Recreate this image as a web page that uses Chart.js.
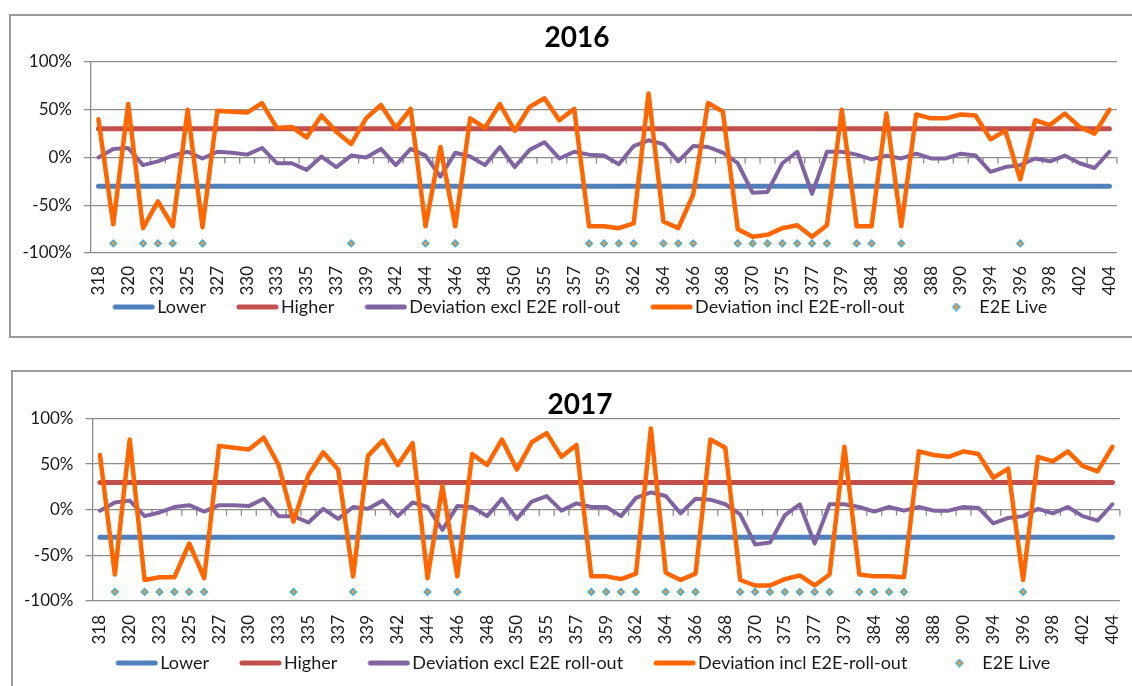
<!DOCTYPE html>
<html>
<head>
<meta charset="utf-8">
<script src="https://cdn.jsdelivr.net/npm/chart.js@4.4.0/dist/chart.umd.min.js"></script>
<style>
  body { margin: 0; background: #fff; width: 1132px; height: 686px; overflow: hidden; position: relative; }
  .frame { position: absolute; border: 2px solid #9a9a9a; background: #fff; }
  #frame2016 { left: 9px; top: 14px; width: 1140px; height: 320px; }
  #frame2017 { left: 11px; top: 370px; width: 1140px; height: 330px; }
  .frame canvas { position: absolute; left: 0; top: 0; }
</style>
</head>
<body>
<div class="frame" id="frame2016"><canvas id="chart2016" width="1132" height="320" style="width:1132px;height:320px"></canvas></div>
<div class="frame" id="frame2017"><canvas id="chart2017" width="1134" height="320" style="width:1134px;height:320px"></canvas></div>
<script>
// week numbers on the category axis (only every other one is labelled)
var weeks = [318, 319, 320, 322, 323, 324, 325, 326, 327, 329,
             330, 331, 333, 334, 335, 336, 337, 338, 339, 340,
             342, 343, 344, 345, 346, 347, 348, 349, 350, 352,
             355, 356, 357, 358, 359, 361, 362, 363, 364, 365,
             366, 367, 368, 369, 370, 372, 375, 376, 377, 378,
             379, 381, 384, 385, 386, 387, 388, 389, 390, 392,
             394, 395, 396, 397, 398, 400, 402, 403, 404];

var lowerLimit = -30;   // %
var higherLimit = 30;   // %
var e2eMarkerLevel = -90; // where the "E2E Live" diamonds sit

// 2016
var exclRollout2016 = [0, 9, 10, -8, -4, 2, 6, -1, 6, 5,
                       3, 10, -6, -6, -13, 1, -10, 2, 0, 9,
                       -8, 9, 2, -20, 5, 1, -8, 11, -10, 8,
                       16, -1, 6, 3, 2, -7, 12, 18, 14, -4,
                       12, 11, 5, -6, -37, -36, -6, 6, -38, 6,
                       6, 3, -2, 2, -1, 4, -1, -1, 4, 2,
                       -15, -10, -8, -1, -4, 2, -6, -11, 6];
var inclRollout2016 = [40, -70, 56, -74, -46, -72, 50, -73, 49, 48,
                       47, 57, 31, 32, 21, 44, 27, 14, 41, 55,
                       31, 51, -72, 11, -72, 41, 31, 56, 28, 53,
                       62, 39, 51, -72, -72, -74, -69, 67, -67, -74,
                       -39, 57, 48, -75, -83, -81, -74, -71, -83, -71,
                       50, -72, -72, 46, -72, 45, 41, 41, 45, 44,
                       19, 28, -23, 39, 34, 46, 32, 25, 50];
var e2eLive2016 = [319, 322, 323, 324, 326, 338, 344, 346, 358, 359, 361, 362, 364,
                   365, 366, 369, 370, 372, 375, 376, 377, 378, 381, 384, 386, 396];

// 2017
var exclRollout2017 = [-1, 8, 10, -7, -3, 3, 5, -2, 5, 5,
                       4, 12, -7, -7, -14, 1, -10, 3, 1, 10,
                       -7, 8, 3, -22, 4, 3, -7, 12, -10, 9,
                       15, -1, 7, 3, 3, -7, 13, 19, 15, -4,
                       12, 11, 6, -5, -38, -36, -6, 6, -37, 6,
                       6, 3, -2, 3, -1, 3, -1, -1, 3, 2,
                       -15, -9, -7, 1, -4, 3, -7, -12, 6];
var inclRollout2017 = [60, -71, 77, -77, -74, -74, -37, -75, 70, 68,
                       66, 79, 49, -13, 38, 63, 44, -73, 59, 76,
                       49, 73, -75, 26, -73, 61, 49, 77, 44, 74,
                       84, 58, 71, -73, -73, -76, -70, 89, -69, -77,
                       -70, 77, 68, -77, -83, -83, -76, -72, -83, -71,
                       69, -71, -73, -73, -74, 64, 60, 58, 64, 61,
                       35, 45, -77, 58, 53, 64, 48, 42, 69];
var e2eLive2017 = [319, 322, 323, 324, 325, 326, 334, 338, 344, 346, 358, 359, 361, 362, 364,
                   365, 366, 369, 370, 372, 375, 376, 377, 378, 381, 384, 385, 386, 396];

var colors = ['#4F81BD', '#C0504D', '#8064A2', '#FF6600'];

Chart.defaults.font.family = 'Lato';
Chart.defaults.color = '#1a1a1a';

// legend swatches: drawn at the right end of a wider transparent image so the
// swatch sits right before its text, like the Excel legend
var SW_W = 78;
function lineSwatch(color) {
    var c = document.createElement('canvas');
    c.width = SW_W; c.height = 6;
    var g = c.getContext('2d');
    g.strokeStyle = color;
    g.lineWidth = 5;
    g.lineCap = 'round';
    g.beginPath();
    g.moveTo(SW_W - 40, 3); g.lineTo(SW_W - 3, 3);
    g.stroke();
    return c;
}
function diamondSwatch() {
    var c = document.createElement('canvas');
    c.width = SW_W; c.height = 9;
    var g = c.getContext('2d');
    var cx = 57;
    g.fillStyle = '#F79646';
    g.strokeStyle = '#4BACC6';
    g.lineWidth = 1.6;
    g.beginPath();
    g.moveTo(cx, 1); g.lineTo(cx + 3.5, 4.5); g.lineTo(cx, 8); g.lineTo(cx - 3.5, 4.5); g.closePath();
    g.fill(); g.stroke();
    return c;
}
var swatches = [lineSwatch(colors[0]), lineSwatch(colors[1]), lineSwatch(colors[2]), lineSwatch(colors[3]), diamondSwatch()];

// small tick marks hanging below the 0% line, one per category
var zeroLineTicks = {
    id: 'zeroLineTicks',
    beforeDatasetsDraw: function(chart) {
        var x = chart.scales.x, y = chart.scales.y, ctx = chart.ctx;
        var y0 = y.getPixelForValue(0);
        var step = x.getPixelForValue(1) - x.getPixelForValue(0);
        ctx.save();
        ctx.strokeStyle = '#8c8c8c';
        ctx.lineWidth = 1.3;
        ctx.beginPath();
        for (var i = 1; i <= weeks.length; i++) {
            var px = x.getPixelForValue(i) - step / 2;
            ctx.moveTo(px, y0);
            ctx.lineTo(px, y0 + 6);
        }
        ctx.stroke();
        ctx.restore();
    }
};

function drawYear(canvasId, title, excl, incl, live, lay) {
    new Chart(document.getElementById(canvasId), {
        type: 'line',
        data: {
            labels: weeks,
            datasets: [
                { label: 'Lower', data: weeks.map(function() { return lowerLimit; }),
                  borderColor: colors[0], borderWidth: 5, pointRadius: 0, order: 5 },
                { label: 'Higher', data: weeks.map(function() { return higherLimit; }),
                  borderColor: colors[1], borderWidth: 5, pointRadius: 0, order: 4 },
                { label: 'Deviation excl E2E roll-out', data: excl,
                  borderColor: colors[2], borderWidth: 4, pointRadius: 0, order: 3 },
                { label: 'Deviation incl E2E-roll-out', data: incl,
                  borderColor: colors[3], borderWidth: 4.5, pointRadius: 0, order: 2 },
                { label: 'E2E Live', data: weeks.map(function(w) { return live.indexOf(w) >= 0 ? e2eMarkerLevel : null; }),
                  showLine: false, pointStyle: 'rectRot', pointRadius: 3.2,
                  pointBackgroundColor: '#F79646', pointBorderColor: '#4BACC6', pointBorderWidth: 1.6, order: 1 }
            ]
        },
        options: {
            responsive: false,
            animation: false,
            elements: { line: { borderJoinStyle: 'round', borderCapStyle: 'round', tension: 0 } },
            layout: { padding: { left: 0, right: 0, top: 0, bottom: 10 } },
            scales: {
                x: {
                    offset: true,
                    grid: { display: false, drawTicks: false },
                    border: { display: false },
                    ticks: {
                        autoSkip: false, minRotation: 90, maxRotation: 90, padding: lay.tickPad,
                        font: { size: 17 },
                        callback: function(v, i) { return i % 2 === 0 ? weeks[i] : ''; }
                    },
                    afterFit: function(s) { s.height = lay.xHeight; }
                },
                y: {
                    min: -100, max: 100,
                    ticks: { stepSize: 50, padding: 12, font: { size: 17 },
                             callback: function(v) { return v + '%'; } },
                    grid: { color: '#8c8c8c', lineWidth: 1.3, tickLength: 7 },
                    border: { color: '#8c8c8c', width: 1.3 },
                    afterFit: function(s) { s.width = lay.yWidth; }
                },
                // empty strip on the right so the title and legend centre on the whole frame
                yRight: {
                    position: 'right',
                    grid: { display: false, drawTicks: false },
                    border: { display: false },
                    ticks: { display: false },
                    afterFit: function(s) { s.width = 22; }
                }
            },
            plugins: {
                title: {
                    display: true, text: title, color: '#000',
                    font: { size: 28, weight: 'bold', lineHeight: 1 },
                    padding: { top: lay.titleTop, bottom: lay.titleBottom }
                },
                legend: {
                    position: 'bottom',
                    labels: {
                        usePointStyle: true, pointStyleWidth: 64, padding: 2,
                        font: { size: 18 },
                        generateLabels: function(chart) {
                            var n = chart.data.datasets.length;
                            return chart.data.datasets.map(function(ds, i) {
                                // trailing space on the last item balances the blank lead of the first swatch
                                var text = i === n - 1 ? ds.label + '\u2003\u2002' : ds.label;
                                return { text: text, datasetIndex: i, pointStyle: swatches[i],
                                         fillStyle: 'transparent', strokeStyle: 'transparent',
                                         lineWidth: 0, fontColor: '#1a1a1a', hidden: false };
                            });
                        }
                    }
                },
                tooltip: { enabled: false }
            }
        },
        plugins: [zeroLineTicks]
    });
}

drawYear('chart2016', '2016', exclRollout2016, inclRollout2016, e2eLive2016,
         { yWidth: 80, xHeight: 43, tickPad: 13, titleTop: 8, titleBottom: 10 });
drawYear('chart2017', '2017', exclRollout2017, inclRollout2017, e2eLive2017,
         { yWidth: 79.5, xHeight: 51, tickPad: 14, titleTop: 19, titleBottom: -0.5 });
</script>
</body>
</html>
